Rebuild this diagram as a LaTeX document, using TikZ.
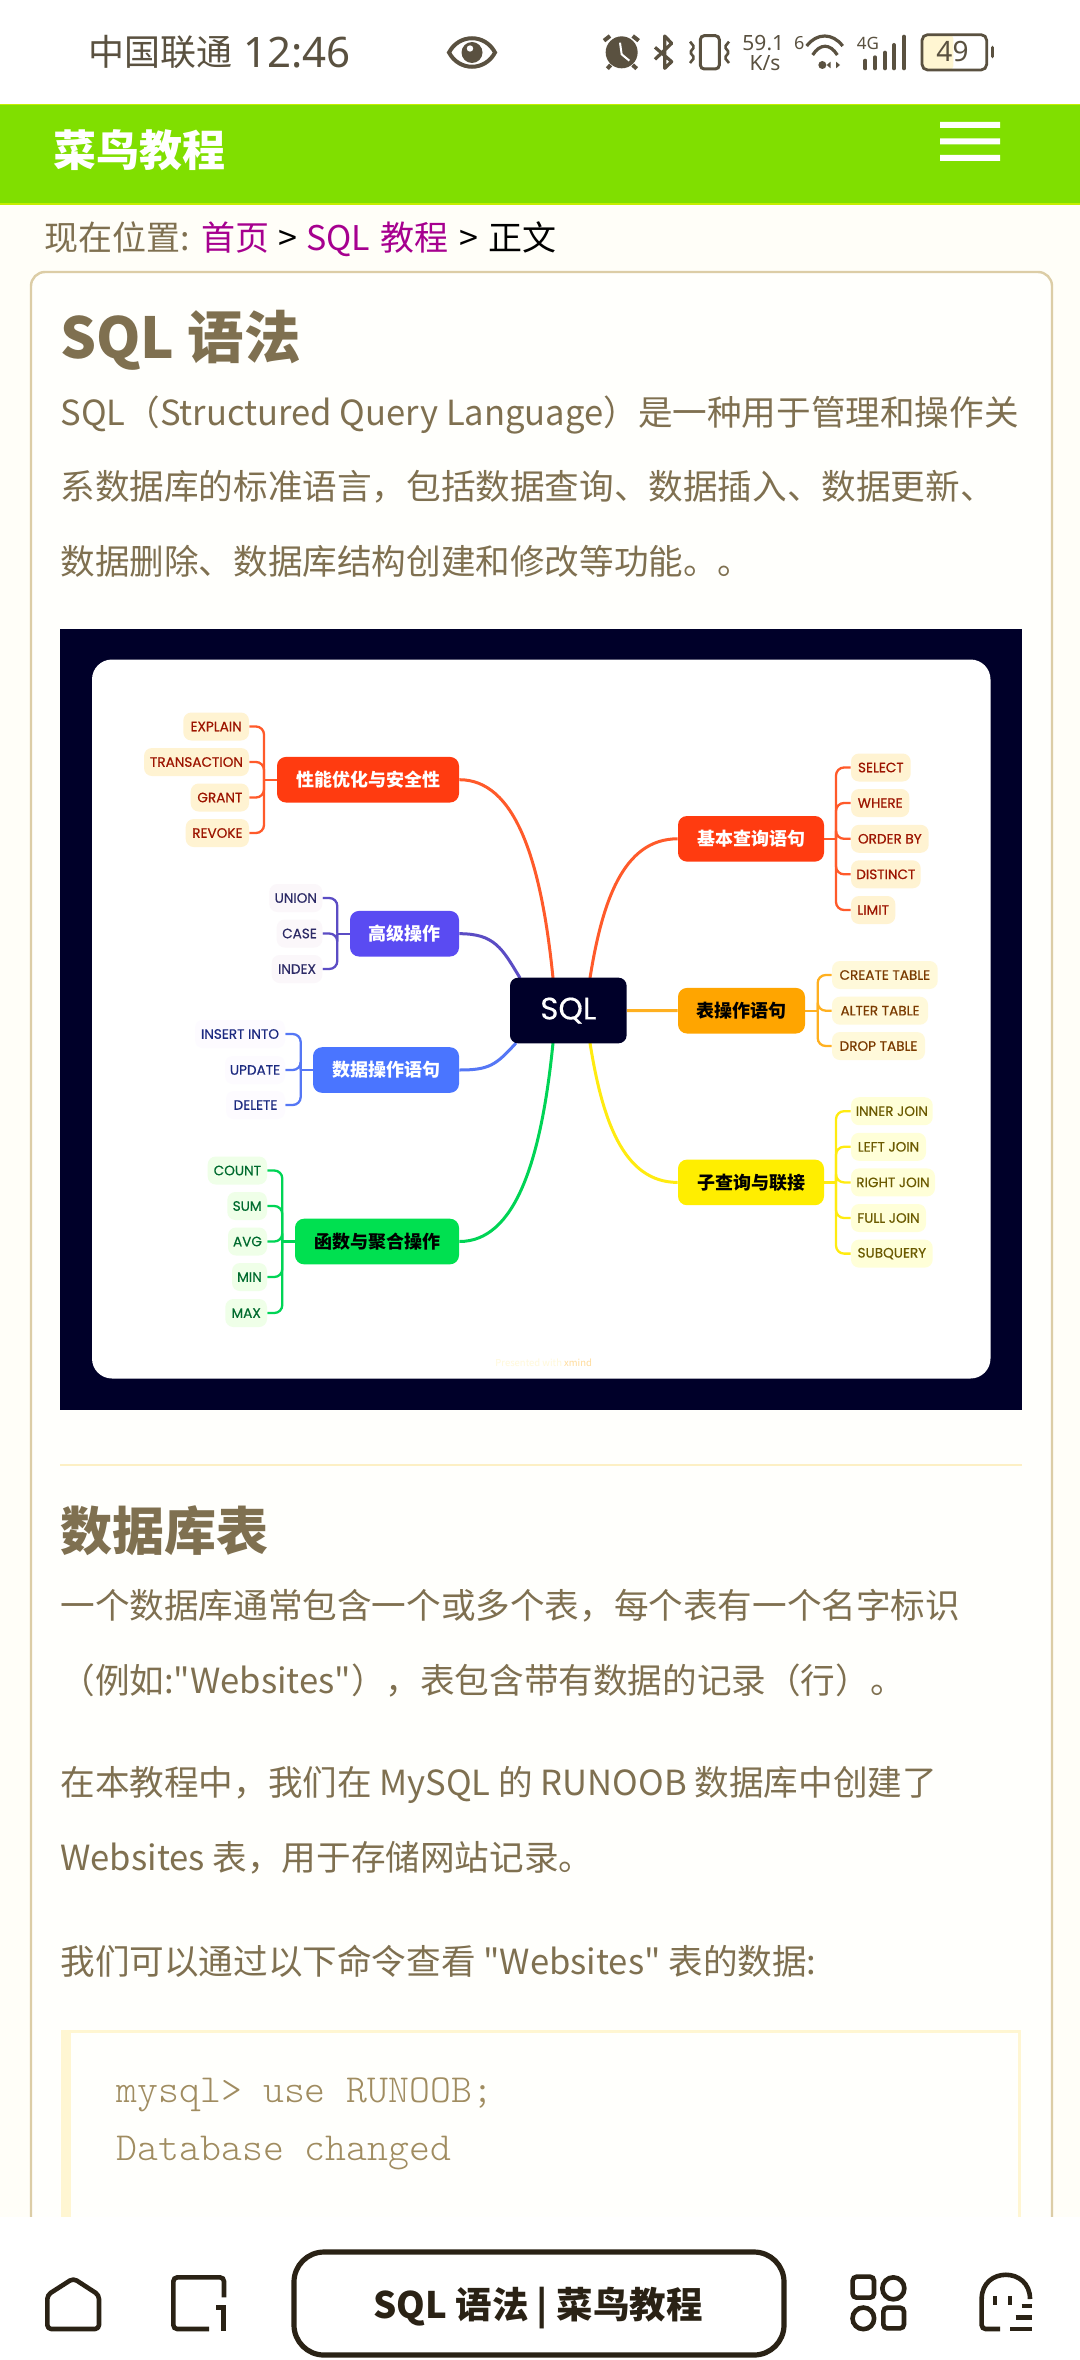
\documentclass[tikz,border=0pt]{standalone}
\usepackage{fontspec}
\setmainfont{Noto Sans CJK SC}
\setmonofont{Latin Modern Mono Light}
\newfontfamily\bodyf{Noto Sans CJK SC}
\newfontfamily\popp{Poppins}[FakeBold=0.4]
\newfontfamily\nsans{Noto Sans}
\definecolor{pagebg}{HTML}{FFFEF8}
\definecolor{cardbg}{HTML}{FFFFFC}
\definecolor{cardln}{HTML}{DCCDA6}
\definecolor{body}{HTML}{7F7050}
\definecolor{stat}{HTML}{5A5140}
\definecolor{green1}{HTML}{80DF00}
\definecolor{green2}{HTML}{C4EE00}
\definecolor{linkc}{HTML}{A6008F}
\definecolor{navy}{HTML}{000029}
\definecolor{codeb}{HTML}{FFF6D2}
\definecolor{hrc}{HTML}{FDF0C4}
\definecolor{codet}{HTML}{A08C60}
\definecolor{inkc}{HTML}{2A2215}
\definecolor{redn}{HTML}{FF3B10}
\definecolor{redl}{HTML}{FF5A2A}
\definecolor{redf}{HTML}{FFF3D2}
\definecolor{redt}{HTML}{9C1400}
\definecolor{purn}{HTML}{5A4BF2}
\definecolor{purl}{HTML}{5B4CC4}
\definecolor{purf}{HTML}{FBF7FA}
\definecolor{purt}{HTML}{2C2A66}
\definecolor{blun}{HTML}{4A75FF}
\definecolor{blul}{HTML}{5577F5}
\definecolor{bluf}{HTML}{FDFBFF}
\definecolor{blut}{HTML}{1C2A80}
\definecolor{grnn}{HTML}{00E050}
\definecolor{grnl}{HTML}{00D455}
\definecolor{grnf}{HTML}{EFFFE8}
\definecolor{grnt}{HTML}{006B2E}
\definecolor{orgn}{HTML}{FFA500}
\definecolor{orgl}{HTML}{FFB020}
\definecolor{orgf}{HTML}{FFF9DA}
\definecolor{orgt}{HTML}{7A3A00}
\definecolor{yeln}{HTML}{FFEE00}
\definecolor{yell}{HTML}{FFEB10}
\definecolor{yelf}{HTML}{FFFFD8}
\definecolor{yelt}{HTML}{6B5A00}
\newcommand\fpx[1]{\pgfmathsetmacro\fszpt{#1*0.5}\fontsize{\fszpt}{\fszpt}\selectfont}
\pgfdeclarelayer{bg}\pgfdeclarelayer{conn}
\pgfsetlayers{bg,conn,main}
\tikzset{
 txt/.style={inner sep=0pt,anchor=base west},
 bodytxt/.style={txt,text=body,font=\bodyf\fpx{34.6}},
 crumbtxt/.style={txt,font=\fpx{34}},
 branch/.style={rounded corners=4.5pt,inner sep=0pt,minimum height=22.8pt,font=\fpx{18}\bfseries},
 leafbox/.style={rounded corners=4pt,inner sep=0pt,minimum height=14pt},
 curve/.style={line width=1.5pt},
 brk/.style={line width=1.15pt,rounded corners=4pt},
 icon/.style={draw=inkc,line width=2.3pt},
 sicon/.style={draw=stat,line width=1.4pt},
}
\newcommand\leaf[7]{\node[leafbox,fill=#6,text=#7,minimum width={(#3-#2)*0.5pt}] (#1) at ({(#2+#3)/2},#4) {\popp\fpx{13.6}#5};}
\newcommand\bnode[7]{\node[branch,fill=#6,text=#7,minimum width={(#3-#2)*0.5pt}] (#1) at ({(#2+#3)/2},#4) {#5};}
\begin{document}
\begin{tikzpicture}[x=0.5pt,y=-0.5pt]
\useasboundingbox (0,0) rectangle (1080,2360);
\begin{pgfonlayer}{bg}
\fill[pagebg] (0,0) rectangle (1080,2360);
\fill[white] (0,0) rectangle (1080,104);
\fill[green2] (0,104) rectangle (1080,205);
\fill[green1] (0,105.5) rectangle (1080,203.5);
\draw[cardln,fill=cardbg,line width=1.2pt,rounded corners=7pt] (31,272) rectangle (1052,2320);
\fill[navy] (60,629) rectangle (1021.5,1410);
\fill[white,rounded corners=10pt] (92,659.5) rectangle (990.5,1378.5);
\fill[codeb] (60.5,2030) rectangle (1020.5,2300);
\fill[cardbg] (71,2033) rectangle (1017.5,2300);
\fill[hrc] (60,1463.5) rectangle (1021.5,1466);
\end{pgfonlayer}

% status bar
\node[txt,text=stat,font=\fpx{36}] (carrier) at (88,66) {中国联通};
\node[txt,text=stat,font=\fpx{42}] (clock) at (243,68) {\nsans 12:46};
\node[txt,text=stat,font=\fpx{21},anchor=center] (speed) at (763.3,43.5) {\nsans 59.1};
\node[txt,text=stat,font=\fpx{21},anchor=center] (speedu) at (765,63.5) {\nsans K/s};
\node[txt,text=stat,font=\fpx{18}\bfseries,anchor=center] (simsix) at (799.3,42.7) {\nsans 6};
\node[txt,text=stat,font=\fpx{17}\bfseries,anchor=center] (fourg) at (868,43) {\nsans 4G};
% eye
\begin{scope}[shift={(472,52.5)}]
\draw[sicon,line width=2pt] (-23,0) .. controls (-13,-19) and (13,-19) .. (23,0) .. controls (13,19) and (-13,19) .. (-23,0) -- cycle;
\fill[stat] (0,0) circle (10.5);
\fill[white] (-2,-4) circle (3.2);
\end{scope}
% status icons
\begin{scope}[shift={(590,20)},x=0.16667pt,y=-0.16667pt]
\fill[stat] (95,97) circle (8pt);
\draw[white,line width=1pt] (90,68) -- (95,103) -- (118,122);
\draw[sicon,line width=2pt] (42,62) -- (60,48) (128,48) -- (146,62) (62,135) -- (52,146) (128,135) -- (140,146);
\draw[sicon,line width=1.6pt,line join=round] (195,82) -- (245,125) -- (224,145) -- (224,48) -- (245,70) -- (195,118);
\draw[sicon,rounded corners=2pt,line width=1.5pt] (331,47) rectangle (388,147);
\draw[sicon,line width=1.3pt,rounded corners=0.8pt] (300,65) -- (313,81) -- (300,97) -- (313,113) -- (300,129);
\draw[sicon,line width=1.3pt,rounded corners=0.8pt] (417,65) -- (404,81) -- (417,97) -- (404,113) -- (417,129);
\draw[sicon,line width=1.6pt] (650,78) .. controls (680,38) and (728,38) .. (758,78);
\draw[sicon,line width=1.6pt] (668,105) .. controls (690,70) and (720,70) .. (742,105);
\fill[stat] (697,135) circle (2pt);
\fill[stat] (722,125) -- (722,145) -- (710,135) -- cycle;
\fill[stat] (738,125) -- (738,145) -- (750,135) -- cycle;
\draw[sicon,line width=2pt,line cap=round] (826,122) -- (826,145) (855,112) -- (855,145) (885,98) -- (885,145) (912,75) -- (912,145) (942,50) -- (942,145);
\fill[codeb,rounded corners=2pt] (996,44) rectangle (1090,150);
\draw[sicon,rounded corners=2.8pt] (996,44) rectangle (1190,150);
\draw[sicon,line width=1.6pt,line cap=round] (1207,82) -- (1207,110);
\end{scope}
\node[txt,text=stat,font=\fpx{28},anchor=center] (batt) at (952.5,52) {\nsans\bfseries 49};

% header
\node[txt,text=white,font=\fpx{43}\bfseries] (brand) at (53,167) {菜鸟教程};
\fill[white] (940,122) rectangle (1000,128) (940,138.5) rectangle (1000,144.5) (940,155) rectangle (1000,161);

% breadcrumb
\node[crumbtxt,text=body] (crumba) at (44,250) {现在位置:};
\node[crumbtxt,text=linkc] (crumbb) at (201,250) {首页};
\node[crumbtxt,text=black] (crumbc) at (278,250) {>};
\node[crumbtxt,text=linkc] (crumbd) at (306,250) {SQL\hspace{5pt}教程};
\node[crumbtxt,text=black] (crumbe) at (459,250) {>};
\node[crumbtxt,text=black] (crumbf) at (488,250) {正文};

% text
\node[txt,text=body,font=\fpx{56.5}\bfseries] (title) at (60,358) {SQL 语法};
\node[bodytxt] (p1) at (60,425) {SQL（Structured Query Language）是一种用于管理和操作关};
\node[bodytxt] (p2) at (60,499.5) {系数据库的标准语言，包括数据查询、数据插入、数据更新、};
\node[bodytxt] (p3) at (60,574.5) {数据删除、数据库结构创建和修改等功能。。};
\node[txt,text=body,font=\fpx{52}\bfseries] (h2) at (60,1550) {数据库表};
\node[bodytxt] (q1) at (60,1618) {一个数据库通常包含一个或多个表，每个表有一个名字标识};
\node[bodytxt] (q2) at (60,1693) {（例如:"Websites"），表包含带有数据的记录（行）。};
\node[bodytxt] (q3) at (60,1795) {在本教程中，我们在 MySQL 的 RUNOOB 数据库中创建了};
\node[bodytxt] (q4) at (60,1870) {Websites 表，用于存储网站记录。};
\node[bodytxt] (q5) at (60,1974) {我们可以通过以下命令查看 "Websites" 表的数据:};
\node[txt,text=codet,font=\fpx{39.8}\ttfamily] (c1) at (116.5,2102) {mysql> use RUNOOB;};
\node[txt,text=codet,font=\fpx{39.8}\ttfamily] (c2) at (116.5,2160) {Database changed};

% mind map
\node[rounded corners=4pt,fill=navy,text=white,inner sep=0pt,minimum width=58.3pt,minimum height=32.8pt] (sql) at (568.3,1010.5) {\popp\fpx{31}SQL};
\coordinate (sqlNL) at (553,978);
\coordinate (sqlNR) at (590,978);
\coordinate (sqlNP) at (520,978);
\coordinate (sqlSL) at (553,1043);
\coordinate (sqlSR) at (590,1043);
\coordinate (sqlSB) at (516,1043);

\bnode{perf}{277}{459}{779.7}{性能优化与安全性}{redn}{white}
\bnode{adv}{350}{459}{933.7}{高级操作}{purn}{white}
\bnode{dml}{313}{459}{1070}{数据操作语句}{blun}{white}
\bnode{func}{295}{459}{1241.5}{函数与聚合操作}{grnn}{black}
\bnode{basic}{678}{824}{838.8}{基本查询语句}{redn}{white}
\bnode{tbl}{678}{805}{1010.7}{表操作语句}{orgn}{black}
\bnode{join}{678}{824}{1182.4}{子查询与联接}{yeln}{black}

\leaf{lexplain}{183.3}{249}{726.5}{EXPLAIN}{redf}{redt}
\leaf{ltrans}{144}{249}{762}{TRANSACTION}{redf}{redt}
\leaf{lgrant}{190.7}{249}{797.5}{GRANT}{redf}{redt}
\leaf{lrevoke}{185.7}{249}{833}{REVOKE}{redf}{redt}
\leaf{lunion}{269.3}{322.3}{898}{UNION}{purf}{purt}
\leaf{lcase}{276.7}{322.3}{933.5}{CASE}{purf}{purt}
\leaf{lindex}{271.7}{322.3}{969}{INDEX}{purf}{purt}
\leaf{linsert}{195}{285}{1034}{INSERT INTO}{bluf}{blut}
\leaf{lupdate}{225}{285}{1070}{UPDATE}{bluf}{blut}
\leaf{ldelete}{226}{285}{1105}{DELETE}{bluf}{blut}
\leaf{lcount}{207.7}{267}{1170.5}{COUNT}{grnf}{grnt}
\leaf{lsum}{227.3}{267}{1206}{SUM}{grnf}{grnt}
\leaf{lavg}{228}{267}{1241.5}{AVG}{grnf}{grnt}
\leaf{lmin}{232}{267}{1277}{MIN}{grnf}{grnt}
\leaf{lmax}{225.3}{267}{1313}{MAX}{grnf}{grnt}
\leaf{lselect}{851}{910.7}{767.5}{SELECT}{redf}{redt}
\leaf{lwhere}{851}{909.3}{803}{WHERE}{redf}{redt}
\leaf{lorder}{851}{928.7}{838.8}{ORDER BY}{redf}{redt}
\leaf{ldist}{851}{920.7}{874.3}{DISTINCT}{redf}{redt}
\leaf{llimit}{851}{895.3}{910}{LIMIT}{redf}{redt}
\leaf{lcreate}{832}{937.7}{975}{CREATE TABLE}{orgf}{orgt}
\leaf{lalter}{832}{928}{1010.7}{ALTER TABLE}{orgf}{orgt}
\leaf{ldrop}{832}{925}{1046}{DROP TABLE}{orgf}{orgt}
\leaf{linner}{851}{932.7}{1111.2}{INNER JOIN}{yelf}{yelt}
\leaf{lleft}{851}{926}{1146.8}{LEFT JOIN}{yelf}{yelt}
\leaf{lright}{851}{935}{1182.4}{RIGHT JOIN}{yelf}{yelt}
\leaf{lfull}{851}{926}{1218}{FULL JOIN}{yelf}{yelt}
\leaf{lsub}{851}{932.7}{1253.6}{SUBQUERY}{yelf}{yelt}

\coordinate (hperf) at (264,779.7);
\coordinate (hadv) at (337.3,933.7);
\coordinate (hdml) at (300.7,1070);
\coordinate (hfunc) at (282.3,1241.5);
\coordinate (hbasic) at (836,838.8);
\coordinate (htbl) at (817.7,1010.7);
\coordinate (hjoin) at (836,1182.4);

\node[inner sep=0pt,font=\fpx{9.5},text=orgf,anchor=west] (credit) at (495,1363) {Presented with \textcolor{orgl!45}{xmind}};

\begin{pgfonlayer}{conn}
\draw[curve,redl] (perf.east) .. controls +(55,0) and +(-12,-120) .. (sqlNL);
\draw[curve,purl] (adv.east) .. controls +(35,0) and +(-18,-30) .. (sqlNP);
\draw[curve,blul] (dml.east) .. controls +(30,0) and +(-20,22) .. (sqlSB);
\draw[curve,grnl] (func.east) .. controls +(55,0) and +(-12,120) .. (sqlSL);
\draw[curve,redl] (basic.west) .. controls +(-55,0) and +(12,-75) .. (sqlNR);
\draw[curve,orgl] (sql.east) -- (tbl.west);
\draw[curve,yell] (join.west) .. controls +(-55,0) and +(12,75) .. (sqlSR);

\foreach \lf in {lexplain,ltrans,lgrant,lrevoke} \draw[brk,redl] (\lf.east) -| (hperf);
\draw[brk,redl] (perf.west) -- (hperf);
\foreach \lf in {lunion,lcase,lindex} \draw[brk,purl] (\lf.east) -| (hadv);
\draw[brk,purl] (adv.west) -- (hadv);
\foreach \lf in {linsert,lupdate,ldelete} \draw[brk,blul] (\lf.east) -| (hdml);
\draw[brk,blul] (dml.west) -- (hdml);
\foreach \lf in {lcount,lsum,lavg,lmin,lmax} \draw[brk,grnl] (\lf.east) -| (hfunc);
\draw[brk,grnl] (func.west) -- (hfunc);
\foreach \lf in {lselect,lwhere,lorder,ldist,llimit} \draw[brk,redl] (\lf.west) -| (hbasic);
\draw[brk,redl] (basic.east) -- (hbasic);
\foreach \lf in {lcreate,lalter,ldrop} \draw[brk,orgl] (\lf.west) -| (htbl);
\draw[brk,orgl] (tbl.east) -- (htbl);
\foreach \lf in {linner,lleft,lright,lfull,lsub} \draw[brk,yell] (\lf.west) -| (hjoin);
\draw[brk,yell] (join.east) -- (hjoin);
\end{pgfonlayer}

% footer
\fill[white] (0,2217) rectangle (1080,2360);
\draw[inkc,line width=2.6pt,fill=white,rounded corners=15pt] (294,2252) rectangle (784,2355);
\node[txt,text=inkc,font=\fpx{36.5}\bfseries,anchor=base] (foot) at (538,2318) {SQL 语法 | 菜鸟教程};
\begin{scope}[shift={(30,2260)},x=0.16667pt,y=-0.16667pt]
\draw[icon,rounded corners=2pt,line join=round] (52,105) -- (130,55) -- (207,105) -- (207,207) -- (52,207) -- cycle;
\draw[icon,rounded corners=2pt] (537,207) -- (430,207) -- (430,52) -- (582,52) -- (582,112);
\draw[icon] (558,143) -- (580,143) -- (580,212);
\end{scope}
\begin{scope}[shift={(840,2260)},x=0.16667pt,y=-0.16667pt]
\draw[icon,rounded corners=2pt] (38,50) rectangle (102,113);
\draw[icon] (160,85) circle (5.5pt);
\draw[icon] (70,175) circle (5.4pt);
\draw[icon,rounded corners=2pt] (130,143) rectangle (192,205);
\draw[icon,rounded corners=2pt] (480,207) -- (425,207) -- (425,117);
\draw[icon] (425,117) .. controls (425,20) and (570,20) .. (570,117);
\draw[icon] (545,138) -- (575,138) (527,172) -- (575,172) (510,207) -- (575,207);
\draw[icon] (465,108) -- (465,134) (510,108) -- (510,134);
\end{scope}
\end{tikzpicture}
\end{document}
